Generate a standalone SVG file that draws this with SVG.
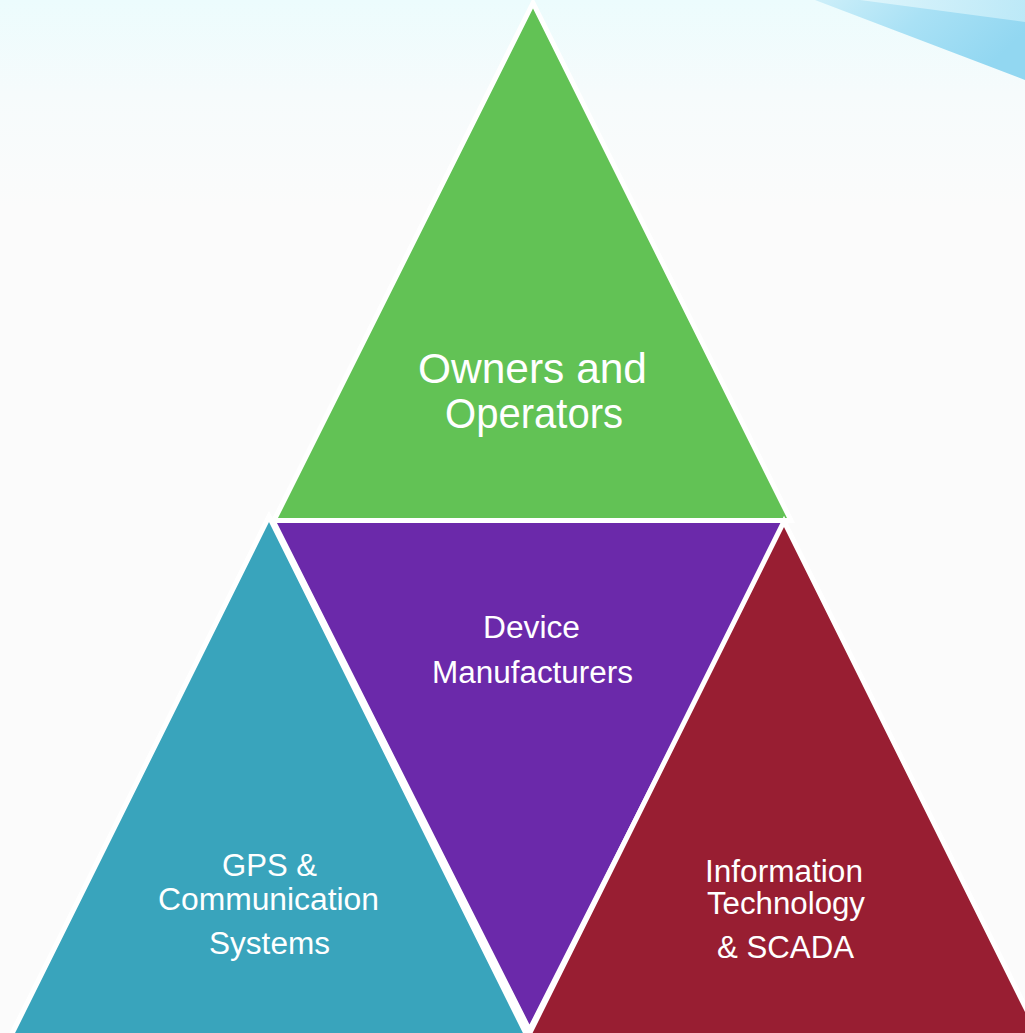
<svg xmlns="http://www.w3.org/2000/svg" width="1025" height="1033" viewBox="0 0 1025 1033">
  <defs>
    <linearGradient id="bgTop" x1="0" y1="0" x2="0" y2="1">
      <stop offset="0" stop-color="#ecfcfd"/>
      <stop offset="0.09" stop-color="#f6fbfc"/>
      <stop offset="0.2" stop-color="#fbfbfb"/>
      <stop offset="1" stop-color="#fbfbfb"/>
    </linearGradient>
    <linearGradient id="swoosh" x1="0" y1="0" x2="1" y2="0.4">
      <stop offset="0" stop-color="#cdeff9"/>
      <stop offset="0.5" stop-color="#a9e1f5"/>
      <stop offset="1" stop-color="#92d7f1"/>
    </linearGradient>
    <linearGradient id="swooshHi" x1="0" y1="0" x2="1" y2="0">
      <stop offset="0" stop-color="#e6f8fc"/>
      <stop offset="1" stop-color="#c6edf9"/>
    </linearGradient>
  </defs>
  <style>
    .tri { stroke: #ffffff; stroke-width: 5; stroke-linejoin: miter; }
    .label { font-family: "Liberation Sans", Arial, sans-serif; fill: #ffffff; text-anchor: middle; }
    .big { font-size: 42px; }
    .small { font-size: 31px; }
  </style>

  <!-- background wash and top-right swoosh -->
  <rect x="0" y="0" width="1025" height="1033" fill="url(#bgTop)"/>
  <polygon points="815,0 1025,0 1025,80" fill="url(#swoosh)"/>
  <polygon points="860,0 1025,0 1025,22" fill="url(#swooshHi)" opacity="0.8"/>

  <g id="owners-operators">
    <polygon class="tri" points="533,3 274,520.5 791,520.5" fill="#62c255"/>
    <text class="label big" x="532.5" y="383" textLength="229" lengthAdjust="spacingAndGlyphs">Owners and</text>
    <text class="label big" x="534" y="428" textLength="178" lengthAdjust="spacingAndGlyphs">Operators</text>
  </g>

  <g id="device-manufacturers">
    <polygon class="tri" points="273,520.5 787,520.5 529.5,1030" fill="#6b29aa"/>
    <text class="label small" x="531.5" y="638" textLength="97" lengthAdjust="spacingAndGlyphs">Device</text>
    <text class="label small" x="532.5" y="683" textLength="201" lengthAdjust="spacingAndGlyphs">Manufacturers</text>
  </g>

  <g id="gps-communication">
    <polygon class="tri" points="269,516.4 8.8,1040 529.2,1040" fill="#39a4bc"/>
    <text class="label small" x="269.5" y="876" textLength="95" lengthAdjust="spacingAndGlyphs">GPS &amp;</text>
    <text class="label small" x="268.5" y="910" textLength="221" lengthAdjust="spacingAndGlyphs">Communication</text>
    <text class="label small" x="269.5" y="954" textLength="121" lengthAdjust="spacingAndGlyphs">Systems</text>
  </g>

  <g id="it-scada">
    <polygon class="tri" points="784,521.4 526.3,1040 1041.7,1040" fill="#981e32"/>
    <text class="label small" x="784" y="882" textLength="158" lengthAdjust="spacingAndGlyphs">Information</text>
    <text class="label small" x="786" y="914" textLength="158" lengthAdjust="spacingAndGlyphs">Technology</text>
    <text class="label small" x="785.5" y="958" textLength="137" lengthAdjust="spacingAndGlyphs">&amp; SCADA</text>
  </g>

  <g id="connectors"/>
</svg>
